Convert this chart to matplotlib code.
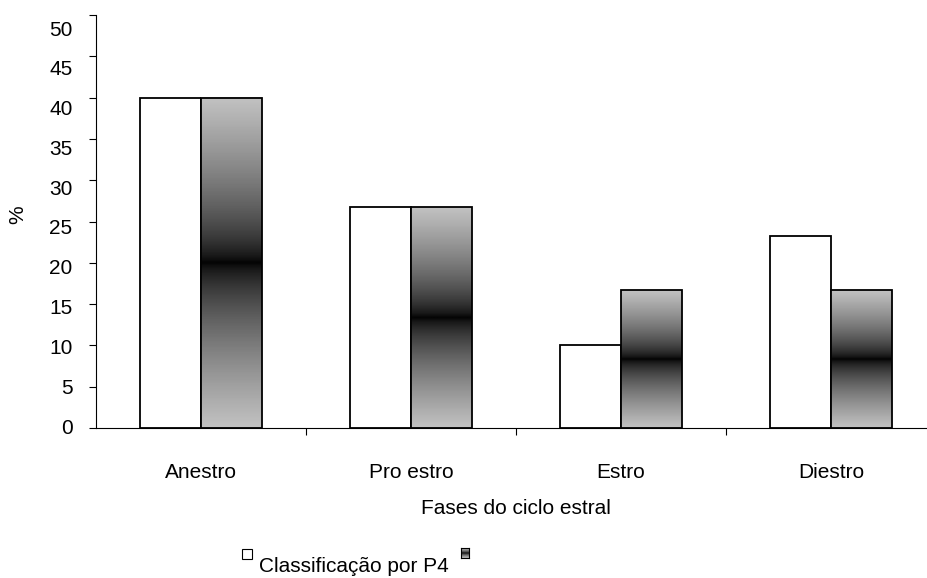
import numpy as np
import matplotlib.pyplot as plt
from matplotlib.patches import Rectangle
from matplotlib.transforms import ScaledTranslation

plt.rcParams['font.family'] = ['Liberation Sans', 'DejaVu Sans']

# Data
fases = ['Anestro', 'Pro estro', 'Estro', 'Diestro']
p4 = [40.0, 26.7, 10.0, 23.3]
outra = [40.0, 26.7, 16.7, 16.7]
yticks = [0, 5, 10, 15, 20, 25, 30, 35, 40, 45, 50]

fig = plt.figure(figsize=(9.28, 5.78), dpi=100)
# axes extends past the right edge like the original
ax = fig.add_axes([96 / 928, 1 - 428 / 578, 840 / 928, 413 / 578])

w = 0.29
x = np.arange(len(fases))

# vertical gradient: light at top/bottom, black in the middle
t = np.linspace(-1, 1, 256)
grad = (0.76 * np.abs(t) ** 0.65).reshape(-1, 1)

ax.bar(x - w / 2, p4, w, color='white', edgecolor='black', linewidth=1.3, zorder=2)
for xi, v in zip(x, outra):
    ax.imshow(grad, cmap='gray', vmin=0, vmax=1, aspect='auto',
              extent=(xi, xi + w, 0, v), interpolation='bilinear', zorder=2)
ax.bar(x + w / 2, outra, w, facecolor='none', edgecolor='black', linewidth=1.3, zorder=3)

ax.set_xlim(-0.5, 3.5)
ax.set_ylim(0, 50)
ax.set_yticks(yticks)
ax.set_xticks(x)
ax.set_xticklabels(fases, fontsize=15)
ax.set_xticks([0.5, 1.5, 2.5], minor=True)
ax.tick_params(axis='x', which='major', length=0, pad=25)
ax.tick_params(axis='x', which='minor', length=5, direction='out', width=0.8)
ax.tick_params(axis='y', length=5, direction='out', width=0.8, labelsize=15, pad=12)
for s in ['top', 'right']:
    ax.spines[s].set_visible(False)
ax.spines['left'].set_linewidth(0.8)
ax.spines['bottom'].set_linewidth(0.8)

# the original's y labels drift slightly below their ticks towards the top
for v, lab in zip(yticks, ax.get_yticklabels()):
    dy = (-2 + 0.30 * v) / 100
    lab.set_transform(lab.get_transform() + ScaledTranslation(0, -dy, fig.dpi_scale_trans))

fig.text(18 / 928, 1 - 215 / 578, '%', rotation=90, ha='center', va='center', fontsize=15)
fig.text(516 / 928, 1 - 508 / 578, 'Fases do ciclo estral', ha='center', va='center', fontsize=15)

# legend
fig.patches.append(Rectangle((242 / 928, 1 - 559 / 578), 10 / 928, 10 / 578,
                             transform=fig.transFigure, facecolor='white',
                             edgecolor='black', linewidth=0.8))
fig.text(259 / 928, 1 - 567 / 578, 'Classificação por P4', ha='left', va='center', fontsize=15)
lax = fig.add_axes([461 / 928, 1 - 558 / 578, 8 / 928, 10 / 578])
lax.imshow(grad, cmap='gray', vmin=0, vmax=1, aspect='auto', interpolation='bilinear')
lax.set_xticks([])
lax.set_yticks([])
for s in lax.spines.values():
    s.set_linewidth(0.8)

fig.savefig('out.png', dpi=100)
